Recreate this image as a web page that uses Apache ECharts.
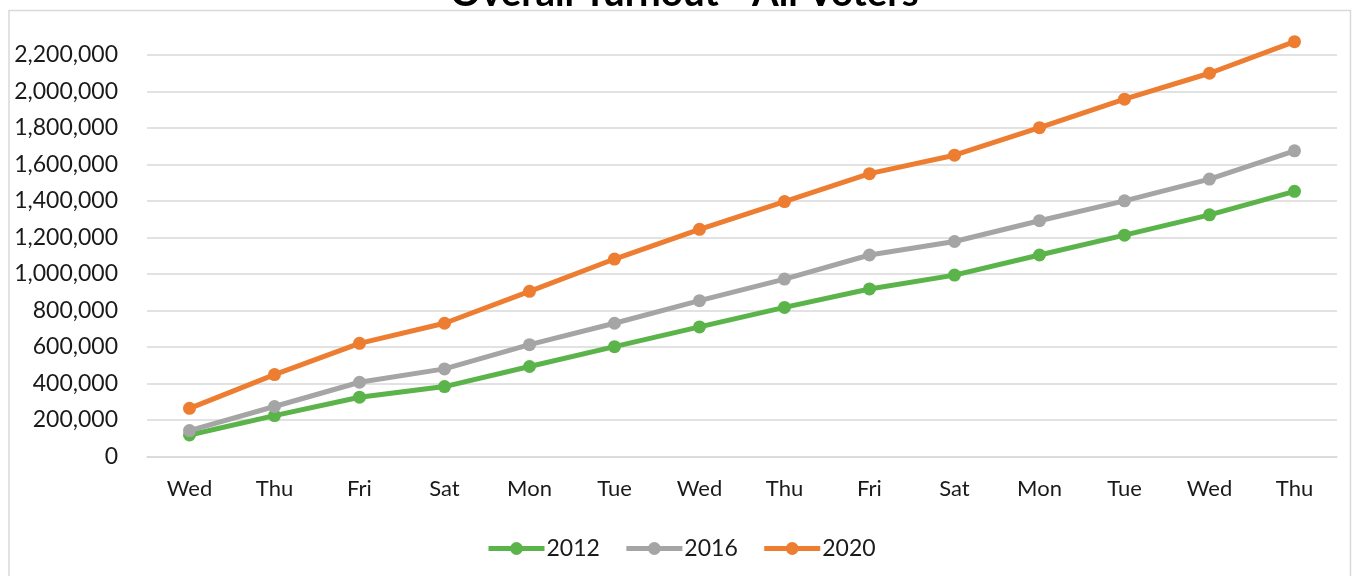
<!DOCTYPE html>
<html>
<head>
<meta charset="utf-8">
<script src="https://cdn.jsdelivr.net/npm/echarts@6/dist/echarts.min.js"></script>
<style>
html,body{margin:0;padding:0;background:#fff;}
#c{width:1353px;height:576px;}
</style>
</head>
<body>
<div id="c"></div>
<script>
const titleText = 'Overall Turnout - All Voters';
const categories = ['Wed','Thu','Fri','Sat','Mon','Tue','Wed','Thu','Fri','Sat','Mon','Tue','Wed','Thu'];
const seriesNames = ['2012','2016','2020'];
const values2012 = [118000,224000,325000,383000,493000,602000,710000,817000,918000,994000,1104000,1213000,1324000,1453000];
const values2016 = [142000,274000,407000,480000,613000,730000,854000,972000,1104000,1178000,1292000,1401000,1520000,1675000];
const values2020 = [264000,449000,620000,730000,905000,1082000,1245000,1397000,1550000,1651000,1802000,1958000,2100000,2273000];
const colors = ['#5BB44A','#A5A5A5','#ED7D31'];

const chart = echarts.init(document.getElementById('c'), null, {renderer:'canvas'});
const font = 'Lato, "DejaVu Sans", sans-serif';
function mk(name, data, color){
  return {
    name: name, type: 'line', data: data, clip: false,
    symbol: 'circle', symbolSize: 13,
    lineStyle: {color: color, width: 5},
    itemStyle: {color: color},
    emphasis: {disabled: true}
  };
}
chart.setOption({
  animation: false,
  backgroundColor: '#fff',
  title: {
    text: titleText, left: 445, top: -31,
    textStyle: {fontFamily: font, fontWeight: 'bold', fontSize: 38.5, color: '#000'}
  },
  graphic: [{
    type: 'rect', z: -10, silent: true,
    shape: {x: 9, y: 10.5, width: 1341.5, height: 620},
    style: {fill: 'none', stroke: '#d9d9d9', lineWidth: 1.5}
  }],
  legend: {
    data: seriesNames, bottom: 11, left: 481,
    itemWidth: 56, itemHeight: 16, itemGap: 24,
    lineStyle: {width: 5},
    textStyle: {fontFamily: font, fontSize: 23, color: '#1a1a1a', padding: [0,0,0,-3]}
  },
  grid: {left: 147, right: 16, top: 55, bottom: 119.5, containLabel: false},
  xAxis: {
    type: 'category', data: categories, boundaryGap: true,
    axisLine: {show: true, lineStyle: {color: '#d9d9d9', width: 1.5}},
    axisTick: {show: false},
    axisLabel: {fontFamily: font, fontSize: 22, color: '#1a1a1a', margin: 21, interval: 0}
  },
  yAxis: {
    type: 'value', min: 0, max: 2200000, interval: 200000,
    axisLine: {show: false}, axisTick: {show: false},
    splitLine: {lineStyle: {color: '#d9d9d9', width: 1.5}},
    axisLabel: {
      fontFamily: font, fontSize: 23, color: '#1a1a1a', margin: 29,
      formatter: v => v.toLocaleString('en-US')
    }
  },
  series: [mk(seriesNames[0], values2012, colors[0]), mk(seriesNames[1], values2016, colors[1]), mk(seriesNames[2], values2020, colors[2])]
});
</script>
</body>
</html>
